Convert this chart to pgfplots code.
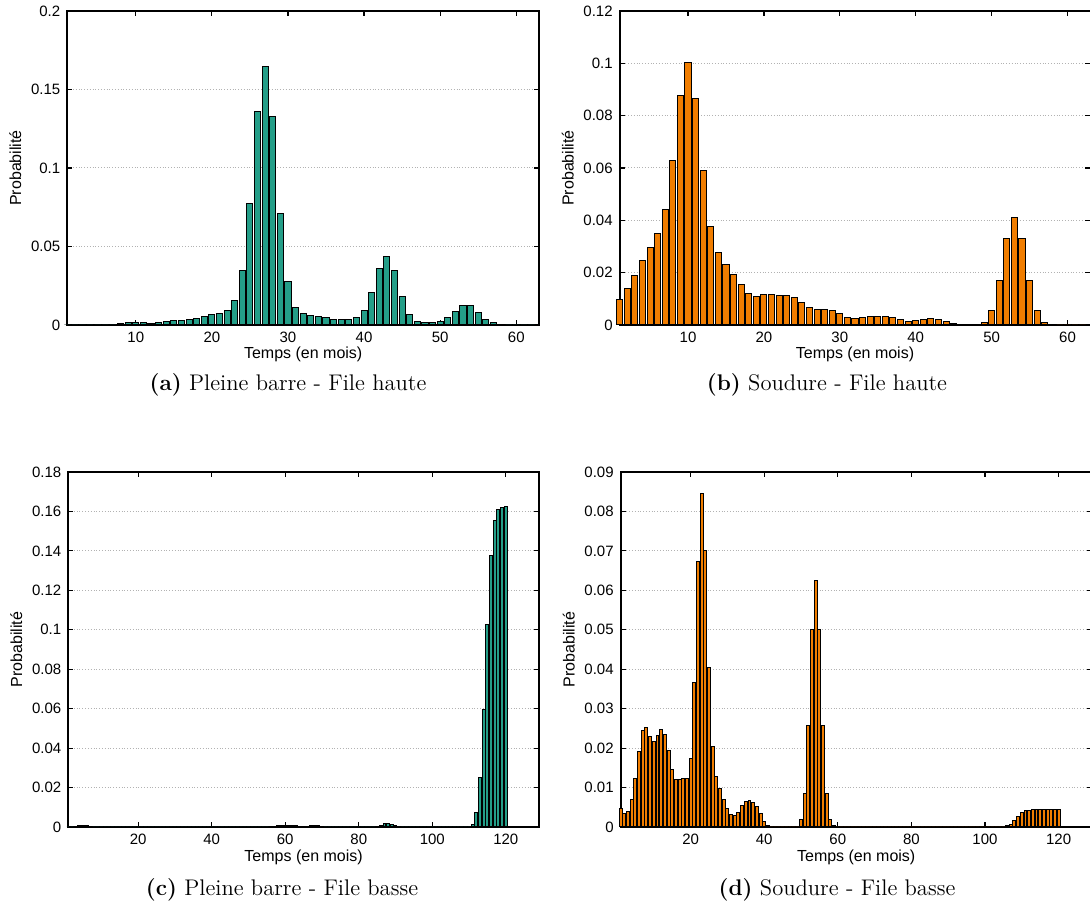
\documentclass[border=0pt]{standalone}
\usepackage{fontspec}
\usepackage{pgfplots}
\pgfplotsset{compat=1.18}
\newfontfamily\helv{Liberation Sans}
\definecolor{tealbar}{RGB}{36,158,136}
\definecolor{orangebar}{RGB}{240,125,0}
\pgfplotsset{
  panel/.style={
    scale only axis, ybar, bar width=0.8, clip=false,
    enlargelimits=false, ymin=0,
    axis line style={line width=0.8pt},
    tick pos=both, tick align=inside, major tick length=2.5pt,
    every tick/.style={black, line width=0.6pt},
    ymajorgrids, grid style={densely dotted, gray!60, line width=0.5pt},
    tick label style={font=\helv\fontsize{7.5}{9}\selectfont},
    label style={font=\helv\fontsize{8}{9}\selectfont},
    /pgf/number format/assume math mode=true,
    scaled y ticks=false,
    yticklabel style={/pgf/number format/fixed, /pgf/number format/precision=3},
    xlabel={Temps (en mois)}, ylabel={Probabilité},
    xlabel style={yshift=4.5pt}, ylabel style={yshift=-2pt},
  },
  tealplot/.style={fill=tealbar, draw=black, line width=0.5pt},
  orangeplot/.style={fill=orangebar, draw=black, line width=0.5pt},
}
\begin{document}
\begin{tikzpicture}
\useasboundingbox (0,0) rectangle (545pt,456.5pt);
% (a)
\begin{axis}[panel, at={(33.65pt,294pt)}, anchor=south west,
  width=235.9pt, height=157pt, xmin=1, xmax=63, ymax=0.2,
  xtick={10,20,30,40,50,60}, ytick={0,0.05,0.1,0.15,0.2}]
\addplot[tealplot] coordinates {
(1,0) (2,0) (3,0) (4,0) (5,0) (6,0) (7,0) (8,0.0010) (9,0.0015) (10,0.0017)
(11,0.0015) (12,0.0010) (13,0.0013) (14,0.0020) (15,0.0028) (16,0.0030) (17,0.0033) (18,0.0040) (19,0.0055) (20,0.0066)
(21,0.0074) (22,0.0093) (23,0.0157) (24,0.0344) (25,0.0773) (26,0.1357) (27,0.1645) (28,0.1325) (29,0.0711) (30,0.0276)
(31,0.0113) (32,0.0070) (33,0.0062) (34,0.0055) (35,0.0049) (36,0.0038) (37,0.0036) (38,0.0038) (39,0.0049) (40,0.0093)
(41,0.0204) (42,0.0361) (43,0.0437) (44,0.0348) (45,0.0183) (46,0.0066) (47,0.0021) (48,0.0013) (49,0.0015) (50,0.0023)
(51,0.0049) (52,0.0089) (53,0.0125) (54,0.0125) (55,0.0081) (56,0.0036) (57,0.0013) (58,0.0002) (59,0) (60,0)
(61,0) (62,0)};
\end{axis}
% (b)
\begin{axis}[panel, at={(309.85pt,294pt)}, anchor=south west,
  width=235.3pt, height=157pt, xmin=1, xmax=63, ymax=0.12,
  xtick={10,20,30,40,50,60}, ytick={0,0.02,0.04,0.06,0.08,0.1,0.12}]
\addplot[orangeplot] coordinates {
(1,0.0098) (2,0.0140) (3,0.0190) (4,0.0245) (5,0.0296) (6,0.0348) (7,0.0441) (8,0.0629) (9,0.0878) (10,0.1004)
(11,0.0864) (12,0.0589) (13,0.0377) (14,0.0278) (15,0.0232) (16,0.0194) (17,0.0153) (18,0.0120) (19,0.0110) (20,0.0115)
(21,0.0116) (22,0.0113) (23,0.0113) (24,0.0106) (25,0.0085) (26,0.0066) (27,0.0061) (28,0.0061) (29,0.0055) (30,0.0042)
(31,0.0029) (32,0.0025) (33,0.0029) (34,0.0033) (35,0.0034) (36,0.0033) (37,0.0028) (38,0.0020) (39,0.0014) (40,0.0017)
(41,0.0022) (42,0.0023) (43,0.0020) (44,0.0013) (45,0.0006) (46,0.0002) (47,0.0001) (48,0.0001) (49,0.0011) (50,0.0055)
(51,0.0169) (52,0.0330) (53,0.0411) (54,0.0330) (55,0.0169) (56,0.0055) (57,0.0011) (58,0.0001) (59,0) (60,0)
(61,0) (62,0)};
\end{axis}
% (c)
\begin{axis}[panel, at={(34.15pt,43pt)}, anchor=south west,
  width=235.3pt, height=177.5pt, xmin=1, xmax=129, ymax=0.18,
  xtick={20,40,60,80,100,120}, ytick={0,0.02,0.04,0.06,0.08,0.1,0.12,0.14,0.16,0.18}]
\addplot[tealplot] coordinates {
(1,0) (2,0) (3,0.0003) (4,0.0008) (5,0.0008) (6,0.0008) (7,0.0003) (8,0) (9,0) (10,0)
(11,0) (12,0) (13,0) (14,0) (15,0) (16,0) (17,0) (18,0) (19,0) (20,0)
(21,0) (22,0) (23,0) (24,0) (25,0) (26,0) (27,0) (28,0) (29,0) (30,0)
(31,0) (32,0) (33,0) (34,0) (35,0) (36,0) (37,0) (38,0) (39,0) (40,0)
(41,0) (42,0) (43,0) (44,0) (45,0) (46,0) (47,0) (48,0) (49,0) (50,0)
(51,0) (52,0) (53,0) (54,0) (55,0) (56,0.0002) (57,0.0005) (58,0.0008) (59,0.0008) (60,0.0009)
(61,0.0009) (62,0.0009) (63,0.0007) (64,0.0004) (65,0.0002) (66,0.0003) (67,0.0007) (68,0.0009) (69,0.0008) (70,0.0004)
(71,0) (72,0) (73,0) (74,0) (75,0) (76,0) (77,0) (78,0) (79,0) (80,0)
(81,0) (82,0) (83,0) (84,0) (85,0.0003) (86,0.0009) (87,0.0017) (88,0.0020) (89,0.0014) (90,0.0006)
(91,0.0002) (92,0) (93,0) (94,0) (95,0) (96,0) (97,0) (98,0) (99,0) (100,0)
(101,0) (102,0) (103,0) (104,0) (105,0) (106,0) (107,0) (108,0) (109,0) (110,0)
(111,0.0012) (112,0.0073) (113,0.0250) (114,0.0597) (115,0.1028) (116,0.1376) (117,0.1553) (118,0.1609) (119,0.1622) (120,0.1624)};
\end{axis}
% (d)
\begin{axis}[panel, at={(310.35pt,43pt)}, anchor=south west,
  width=235.5pt, height=177.5pt, xmin=1, xmax=129, ymax=0.09,
  xtick={20,40,60,80,100,120}, ytick={0,0.01,0.02,0.03,0.04,0.05,0.06,0.07,0.08,0.09}]
\addplot[orangeplot] coordinates {
(1,0.0047) (2,0.0035) (3,0.0040) (4,0.0069) (5,0.0123) (6,0.0192) (7,0.0244) (8,0.0252) (9,0.0230) (10,0.0218)
(11,0.0232) (12,0.0247) (13,0.0234) (14,0.0194) (15,0.0145) (16,0.0120) (17,0.0120) (18,0.0123) (19,0.0123) (20,0.0173)
(21,0.0367) (22,0.0674) (23,0.0845) (24,0.0700) (25,0.0404) (26,0.0205) (27,0.0128) (28,0.0097) (29,0.0070) (30,0.0048)
(31,0.0031) (32,0.0028) (33,0.0038) (34,0.0054) (35,0.0064) (36,0.0067) (37,0.0063) (38,0.0053) (39,0.0034) (40,0.0015)
(41,0.0004) (42,0) (43,0) (44,0) (45,0) (46,0) (47,0) (48,0) (49,0) (50,0.0018)
(51,0.0085) (52,0.0257) (53,0.0500) (54,0.0626) (55,0.0500) (56,0.0257) (57,0.0085) (58,0.0018) (59,0.0003) (60,0)
(61,0) (62,0) (63,0) (64,0) (65,0) (66,0) (67,0) (68,0) (69,0) (70,0)
(71,0) (72,0) (73,0) (74,0) (75,0) (76,0) (77,0) (78,0) (79,0) (80,0)
(81,0) (82,0) (83,0) (84,0) (85,0) (86,0) (87,0) (88,0) (89,0) (90,0)
(91,0) (92,0) (93,0) (94,0) (95,0) (96,0) (97,0) (98,0) (99,0) (100,0)
(101,0) (102,0) (103,0) (104,0) (105,0) (106,0.0003) (107,0.0007) (108,0.0016) (109,0.0027) (110,0.0036)
(111,0.0041) (112,0.0042) (113,0.0044) (114,0.0044) (115,0.0044) (116,0.0044) (117,0.0044) (118,0.0044) (119,0.0044) (120,0.0044)};
\end{axis}
% captions
\node[font=\fontsize{11.3}{13}\selectfont] at (144pt,264pt) {\textbf{(a)} Pleine barre - File haute};
\node[font=\fontsize{11.3}{13}\selectfont] at (413.5pt,264pt) {\textbf{(b)} Soudure - File haute};
\node[font=\fontsize{11.3}{13}\selectfont] at (141pt,11.5pt) {\textbf{(c)} Pleine barre - File basse};
\node[font=\fontsize{11.3}{13}\selectfont] at (418.5pt,11.5pt) {\textbf{(d)} Soudure - File basse};
\end{tikzpicture}
\end{document}
